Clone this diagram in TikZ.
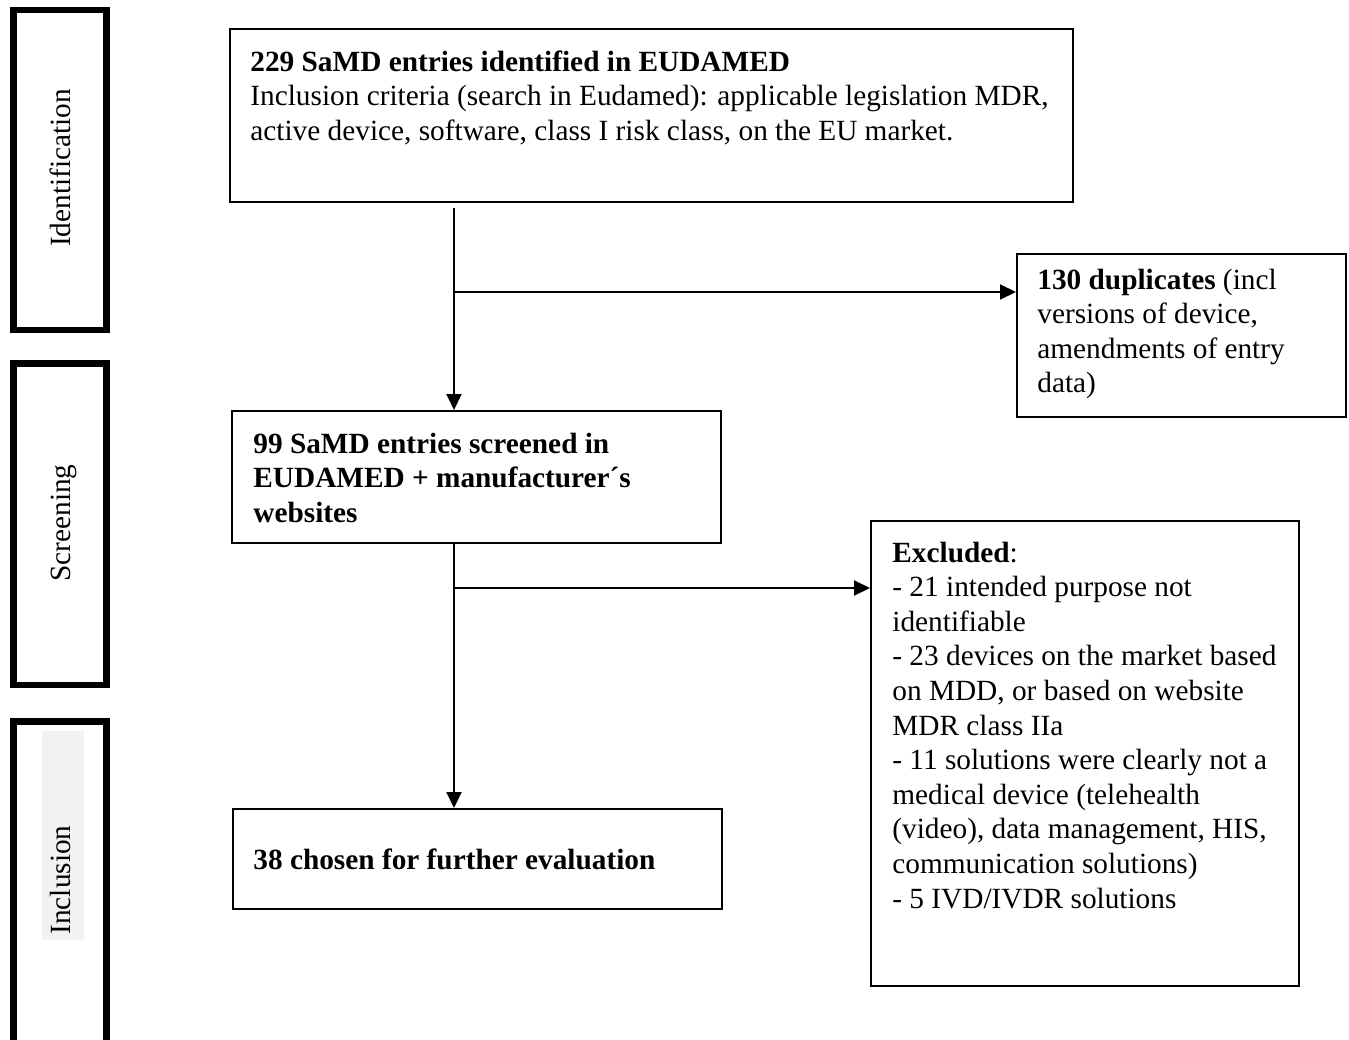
\documentclass[tikz,border=0pt]{standalone}
\usepackage{fontspec}
\setmainfont{Liberation Serif}
\usetikzlibrary{arrows.meta}
\newcommand{\bodyfont}{\fontsize{14.65}{17.3}\selectfont}
\begin{document}
\begin{tikzpicture}[x=0.5pt,y=-0.5pt,
  box/.style={draw, line width=1pt, inner sep=0pt, anchor=north west},
  barframe/.style={draw, line width=3.25pt},
  lbl/.style={rotate=90, anchor=base, inner sep=0pt, font=\bodyfont},
  txt/.style={inner sep=0pt, anchor=base west, font=\bodyfont},
  arr/.style={line width=1pt, -{Triangle[length=8pt,width=7.5pt]}}]
\useasboundingbox (0,0) rectangle (1349,1039);
\clip (0,0) rectangle (1349,1039);

% left stage bars
\draw[barframe] (13.5,10.2) rectangle (106.5,330);
\draw[barframe] (13.5,363.5) rectangle (106.5,685);
\fill[black!5] (42,731) rectangle (84,940);
\draw[barframe] (13.5,721.5) rectangle (106.5,1080);
\node[lbl] (lid) at (70,168) {Identification};
\node[lbl] (lsc) at (70,523) {Screening};
\node[lbl] (lin) at (70,880) {Inclusion};

% boxes
\node[box, minimum width=421.5pt, minimum height=86.5pt] (B1) at (229,28) {};
\node[box, minimum width=164.5pt, minimum height=81.5pt] (B2) at (1016,253) {};
\node[box, minimum width=244.5pt, minimum height=66pt] (B3) at (231,410) {};
\node[box, minimum width=214pt, minimum height=232.5pt] (B4) at (870,520) {};
\node[box, minimum width=244.5pt, minimum height=50pt] (B5) at (232,808) {};

% texts
\node[txt] (T1) at (250,71) {\parbox[t]{500pt}{\textbf{229 SaMD entries identified in EUDAMED}\\
Inclusion criteria (search in Eudamed): applicable legislation MDR,\\
active device, software, class I risk class, on the EU market.}};
\node[txt] (T2) at (1037,289) {\parbox[t]{300pt}{\textbf{130 duplicates} (incl\\
versions of device,\\
amendments of entry\\
data)}};
\node[txt] (T3) at (253,453) {\parbox[t]{300pt}{\textbf{99 SaMD entries screened in\\
EUDAMED + manufacturer´s\\
websites}}};
\node[txt] (T4) at (892,562) {\parbox[t]{300pt}{\textbf{Excluded}:\\
- 21 intended purpose not\\
identifiable\\
- 23 devices on the market based\\
on MDD, or based on website\\
MDR class IIa\\
- 11 solutions were clearly not a\\
medical device (telehealth\\
(video), data management, HIS,\\
communication solutions)\\
- 5 IVD/IVDR solutions}};
\node[txt] (T5) at (253,869) {\textbf{38 chosen for further evaluation}};

% connectors
\coordinate (col) at (454,0);
\coordinate (j1) at (454,292);
\coordinate (j2) at (454,588);
\draw[arr] ([yshift=-2.5pt]B1.south -| col) -- (B3.north -| col);
\draw[arr] (j1) -- (B2.west |- j1);
\draw[arr] (B3.south -| col) -- (B5.north -| col);
\draw[arr] (j2) -- (B4.west |- j2);
\end{tikzpicture}
\end{document}
